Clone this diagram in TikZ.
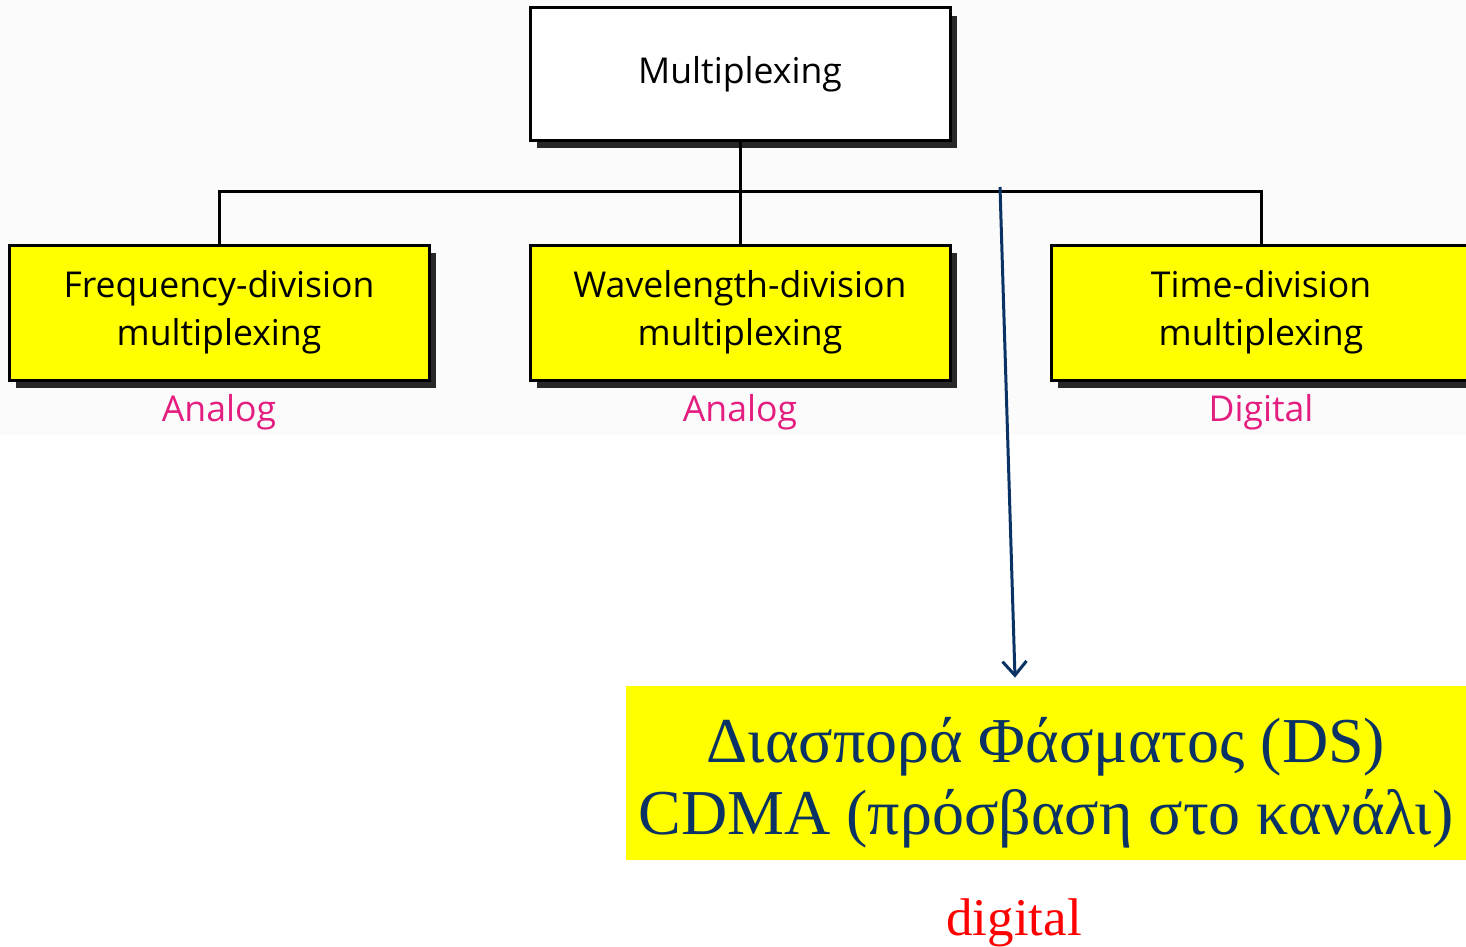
\documentclass[tikz,border=0pt]{standalone}
\usepackage{fontspec}
\setmainfont{Liberation Serif}
\newfontfamily\boxfont{Open Sans}
\usetikzlibrary{arrows.meta,positioning,shadows}
\definecolor{boxyellow}{RGB}{255,255,0}
\definecolor{labelpink}{RGB}{228,30,128}
\definecolor{dsnavy}{RGB}{10,50,100}
\definecolor{shadowgray}{RGB}{40,40,40}
\definecolor{topbg}{RGB}{251,251,251}

\begin{document}
\begin{tikzpicture}[
  x=0.5pt,y=-0.5pt,
  node distance=51pt and 49pt,
  block/.style={rectangle,draw=black,line width=1.5pt,align=center,
                minimum width=210pt,minimum height=67.5pt,
                font=\boxfont\fontsize{17.8}{24}\selectfont,
                drop shadow={shadow xshift=3.5pt,shadow yshift=-4pt,
                             fill=shadowgray,opacity=1}},
  kind/.style={font=\boxfont\fontsize{17.8}{20}\selectfont,text=labelpink},
  tree/.style={draw=black,line width=1.5pt},
  arrow/.style={-{Straight Barb[length=7pt,width=12pt]},draw=dsnavy,line width=1.5pt}
]
\useasboundingbox (0,0) rectangle (1466,947);
\fill[topbg] (0,0) rectangle (1466,435);

% the tree of multiplexing kinds
\node[block,fill=white,minimum height=66pt] (mux) at (740,74) {Multiplexing};
\node[block,fill=boxyellow,below=of mux] (wdm) {Wavelength-division\\multiplexing};
\node[block,fill=boxyellow,left=of wdm] (fdm) {Frequency-division\\multiplexing};
\node[block,fill=boxyellow,right=of wdm] (tdm) {Time-division\\multiplexing};

\node[kind,below=3pt of fdm] (fdmkind) {Analog};
\node[kind,below=3pt of wdm] (wdmkind) {Analog};
\node[kind,below=3pt of tdm] (tdmkind) {Digital};

\coordinate (bus) at (740,191);
\draw[tree] (mux.south) -- (bus);
\draw[tree] (fdm.north) |- (bus) -| (tdm.north);
\draw[tree] (bus) -- (wdm.north);

% spread spectrum
\node[fill=boxyellow,minimum width=420pt,minimum height=87pt,inner sep=0pt] (ds) at (1046,773) {};
\node[align=center,text=dsnavy,font=\fontsize{32}{36}\selectfont] (dstext)
  at ([yshift=-5pt]ds.center) {Διασπορά Φάσματος (DS)\\CDMA (πρόσβαση στο κανάλι)};
\node[text=red,font=\fontsize{26.5}{30}\selectfont] (dig) at (1014,923) {digital};

\coordinate (tap) at (1000,187);
\draw[arrow] (tap) -- ([xshift=-15.5pt,yshift=4pt]ds.north);
\end{tikzpicture}
\end{document}
